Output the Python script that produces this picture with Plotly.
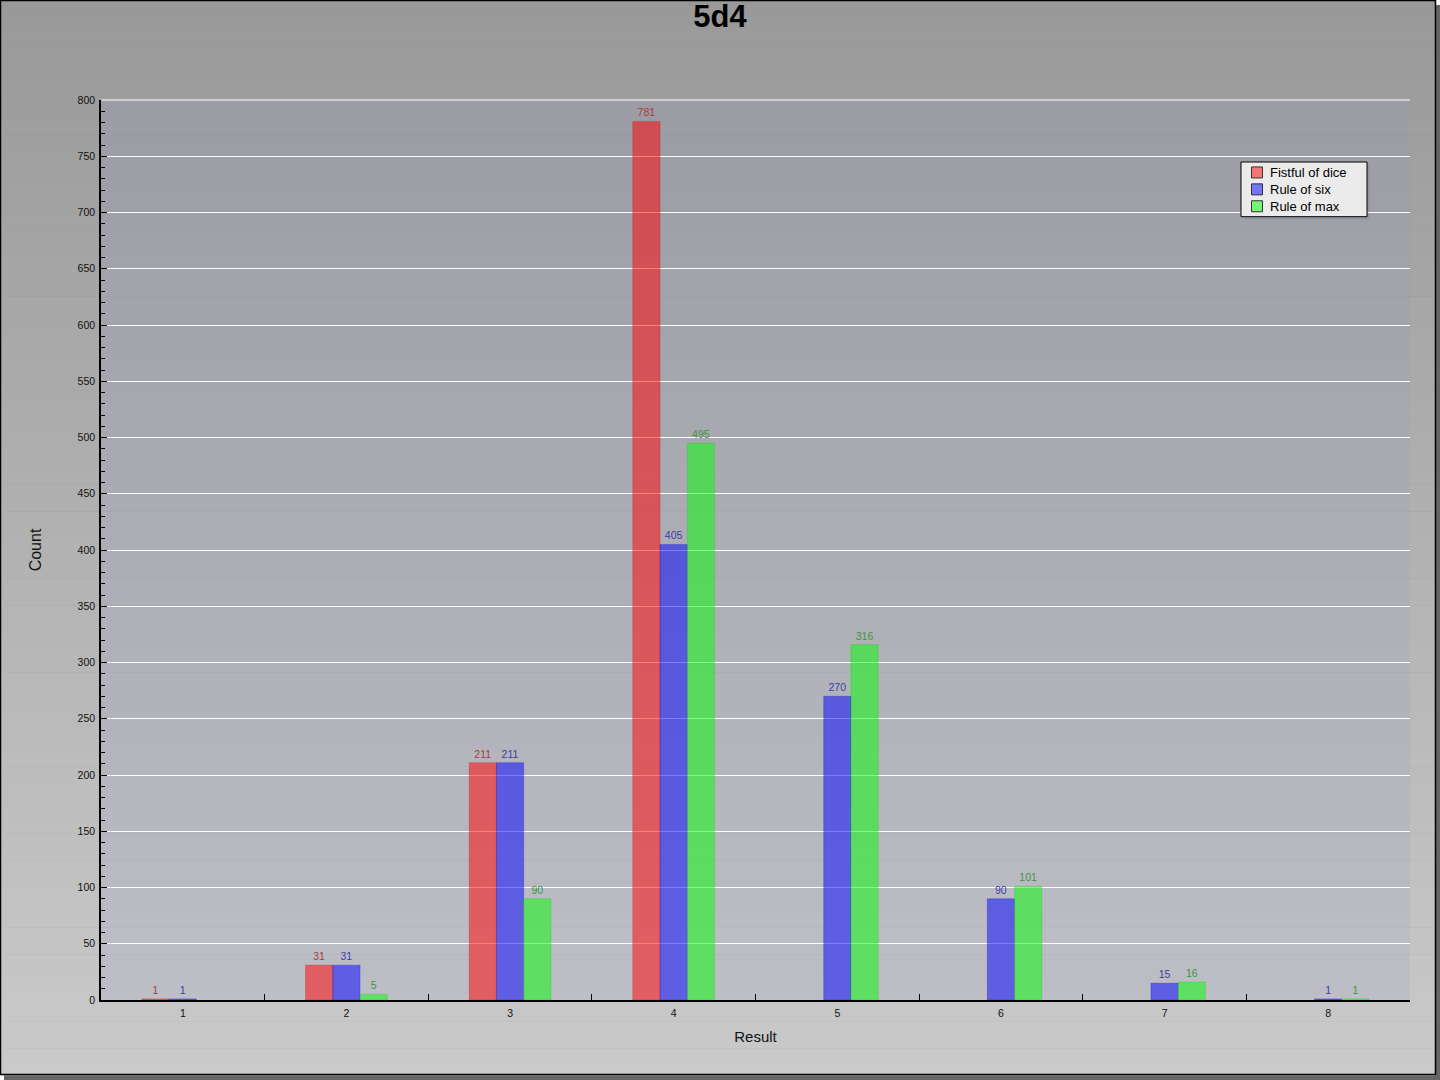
import plotly.graph_objects as go

# data
results = ['1', '2', '3', '4', '5', '6', '7', '8']
fistful_of_dice = [1, 31, 211, 781, None, None, None, None]
rule_of_six = [1, 31, 211, 405, 270, 90, 15, 1]
rule_of_max = [None, 5, 90, 495, 316, 101, 16, 1]

W, H = 1440, 1080
ml, mr, mt, mb = 101, 30, 100, 80
pw, ph = W - ml - mr, H - mt - mb


def px_x(x):
    return (x - ml) / pw


def px_y(y):
    return (H - mb - y) / ph


fig = go.Figure()

series = [
    ('Fistful of dice', fistful_of_dice, 'rgba(255,0,0,0.5)', 'rgba(210,0,0,0.4)', '#a83c3c'),
    ('Rule of six', rule_of_six, 'rgba(0,0,255,0.5)', 'rgba(0,0,210,0.4)', '#3c3ca8'),
    ('Rule of max', rule_of_max, 'rgba(0,255,0,0.5)', 'rgba(0,210,0,0.4)', '#3c963c'),
]
for name, vals, col, edge, tcol in series:
    fig.add_trace(go.Bar(x=results, y=vals, name=name, showlegend=False,
                         marker=dict(color=col, line=dict(width=0.6, color=edge)),
                         text=[str(v) if v is not None else '' for v in vals],
                         textposition='outside', textangle=0, cliponaxis=False,
                         textfont=dict(size=10.5, color=tcol, family='Liberation Sans, Arial')))

shapes = []
# drop shadow of the frame
shapes.append(dict(type='rect', xref='paper', yref='paper', layer='below',
                   x0=px_x(4), x1=px_x(1440), y0=px_y(1080), y1=px_y(5),
                   fillcolor='#666666', line=dict(width=0)))
# vertical grey gradient inside the frame
n = 80
top, bottom = 153, 202
for i in range(n):
    y0 = 1 + i * (1074 / n)
    y1 = 1 + (i + 1) * (1074 / n)
    c = int(round(top + (bottom - top) * (i + 0.5) / n))
    shapes.append(dict(type='rect', xref='paper', yref='paper', layer='below',
                       x0=px_x(1), x1=px_x(1435), y0=px_y(y1 + 0.5), y1=px_y(y0),
                       fillcolor='rgb(%d,%d,%d)' % (c, c, c), line=dict(width=0)))
# frame border
shapes.append(dict(type='rect', xref='paper', yref='paper', layer='below',
                   x0=px_x(0.5), x1=px_x(1435.5), y0=px_y(1074.5), y1=px_y(0.5),
                   line=dict(width=1.5, color='black')))
# bluish tint of the plot area
shapes.append(dict(type='rect', xref='paper', yref='paper', layer='below',
                   x0=0, x1=1, y0=0, y1=1,
                   fillcolor='rgba(150,150,195,0.17)', line=dict(width=0)))
# top grid line (plotly drops the one sitting on the edge)
shapes.append(dict(type='line', xref='paper', yref='paper', layer='below',
                   x0=0, x1=1, y0=1, y1=1, line=dict(width=1, color='white')))

# compact legend box, drawn by hand to get the tight row spacing
fs = 13
row = fs * 1.3
lx, ly, lw = 1241, 162, 126
lh = 3 * row + 4
shapes.append(dict(type='rect', xref='paper', yref='paper', layer='above',
                   x0=px_x(lx + 3), x1=px_x(lx + lw + 3), y0=px_y(ly + lh + 3), y1=px_y(ly + 3),
                   fillcolor='rgba(0,0,0,0.06)', line=dict(width=0)))
shapes.append(dict(type='rect', xref='paper', yref='paper', layer='above',
                   x0=px_x(lx), x1=px_x(lx + lw), y0=px_y(ly + lh), y1=px_y(ly),
                   fillcolor='#ebebeb', line=dict(width=1, color='black')))
for i, s in enumerate(series):
    cy = ly + 2 + row * (i + 0.5)
    shapes.append(dict(type='rect', xref='paper', yref='paper', layer='above',
                       x0=px_x(lx + 10.5), x1=px_x(lx + 21.5), y0=px_y(cy + 5.5), y1=px_y(cy - 5.5),
                       fillcolor=s[2], line=dict(width=1, color='#333333')))
legend_text = '<br>'.join(s[0] for s in series)

fig.update_layout(
    width=W, height=H,
    margin=dict(l=ml, r=mr, t=mt, b=mb, pad=0),
    paper_bgcolor='white', plot_bgcolor='rgba(0,0,0,0)',
    font=dict(family='Liberation Sans, Arial', color='#111111'),
    title=dict(text='<b>5d4</b>', x=0.5, xanchor='center', y=1 - 16 / H, yanchor='middle',
               yref='container', font=dict(size=31, color='black')),
    barmode='group', bargap=0.5, bargroupgap=0,
    shapes=shapes,
    annotations=[dict(xref='paper', yref='paper', x=px_x(lx + 28), y=px_y(ly + 2 + 1.5 * row),
                      xanchor='left', yanchor='middle', showarrow=False, align='left',
                      text=legend_text, borderpad=0, font=dict(size=fs, color='black'))],
)
fig.update_xaxes(type='category', tickson='boundaries', ticks='inside', ticklen=6,
                 tickcolor='black', showline=True, linecolor='black', linewidth=1.5,
                 showgrid=False, tickfont=dict(size=10.5), ticklabelstandoff=3,
                 title=dict(text='Result', font=dict(size=15), standoff=13))
fig.update_yaxes(range=[0, 800], tickvals=list(range(0, 801, 50)), ticks='inside', ticklen=6,
                 tickcolor='black', showline=True, linecolor='black', linewidth=1.5,
                 showgrid=True, gridcolor='white', gridwidth=1, zeroline=False,
                 tickfont=dict(size=10.5), ticklabelstandoff=2,
                 minor=dict(dtick=10, ticks='inside', ticklen=4, tickcolor='black', showgrid=False),
                 title=dict(text='Count', font=dict(size=16), standoff=32))

fig.write_html("out.html", config={'displayModeBar': False},
               post_script="document.body.style.margin='0';")
